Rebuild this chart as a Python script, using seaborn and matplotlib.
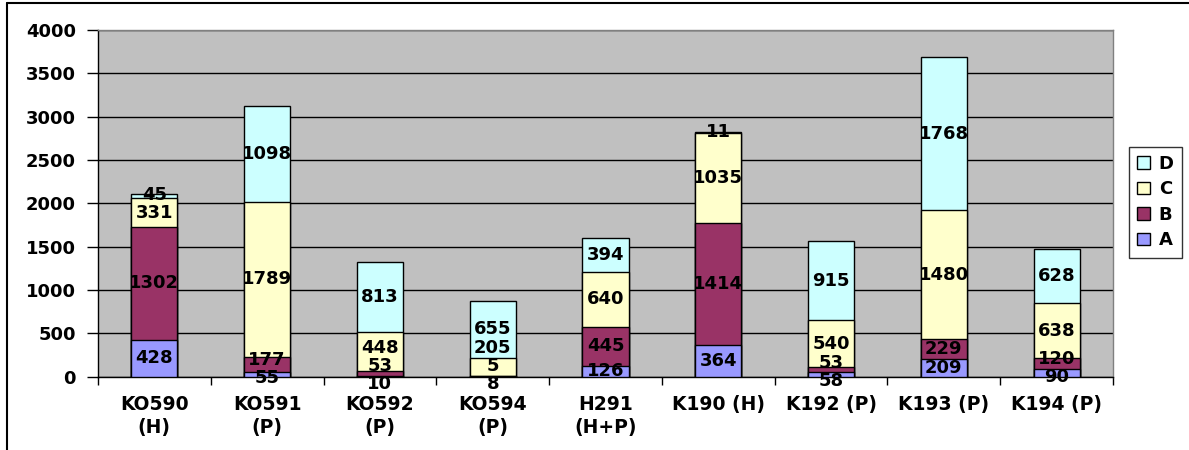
import numpy as np
import pandas as pd
import matplotlib
matplotlib.use("Agg")
import matplotlib.pyplot as plt
from matplotlib.patches import Patch
from matplotlib.lines import Line2D
import seaborn as sns

# ---------------- data ----------------
categories = ["KO590\n(H)", "KO591\n(P)", "KO592\n(P)", "KO594\n(P)", "H291\n(H+P)",
              "K190 (H)", "K192 (P)", "K193 (P)", "K194 (P)"]
series_names = ["A", "B", "C", "D"]
A = [428, 55, 10, 8, 126, 364, 58, 209, 90]
B = [1302, 177, 53, 5, 445, 1414, 53, 229, 120]
C = [331, 1789, 448, 205, 640, 1035, 540, 1480, 638]
D = [45, 1098, 813, 655, 394, 11, 915, 1768, 628]
y_ticks = [0, 500, 1000, 1500, 2000, 2500, 3000, 3500, 4000]

colors = {"A": "#9999FF", "B": "#993366", "C": "#FFFFCC", "D": "#CCFFFF"}

# ---------------- style ----------------
sns.set_theme(style="white")
plt.rcParams["font.family"] = ["DejaVu Sans"]
plt.rcParams["font.weight"] = "bold"
plt.rcParams["text.color"] = "black"
plt.rcParams["xtick.color"] = "black"
plt.rcParams["ytick.color"] = "black"
plt.rcParams["axes.labelcolor"] = "black"

fig = plt.figure(figsize=(11.89, 4.5), dpi=100)
ax = fig.add_axes([0.0824, 0.163, 0.8537, 0.7703])
ax.set_facecolor("#C0C0C0")

series = {"A": A, "B": B, "C": C, "D": D}
stack = np.vstack([series[s] for s in series_names])
cum = np.cumsum(stack, axis=0)

# draw cumulative totals from top layer down so each segment shows its colour
for idx in range(len(series_names) - 1, -1, -1):
    df = pd.DataFrame({"cat": categories, "val": cum[idx]})
    sns.barplot(data=df, x="cat", y="val", order=categories, color=colors[series_names[idx]],
                saturation=1, width=0.41, edgecolor="black", linewidth=1.0,
                errorbar=None, ax=ax, zorder=3)

# ---------------- labels (centred in segments, spread apart when crowded) ----------------
def spread(centers, gap, floor):
    clusters = [[c] for c in centers]

    def positions(cl):
        n = len(cl)
        m = max(np.mean(cl), floor + (n - 1) / 2 * gap)
        return [m + (k - (n - 1) / 2) * gap for k in range(n)]

    changed = True
    while changed:
        changed = False
        for i in range(len(clusters) - 1):
            if positions(clusters[i])[-1] + gap > positions(clusters[i + 1])[0] + 1e-9:
                clusters[i] = clusters[i] + clusters[i + 1]
                del clusters[i + 1]
                changed = True
                break
    out = []
    for cl in clusters:
        out.extend(positions(cl))
    return out

for j in range(len(categories)):
    centers = []
    for i in range(len(series_names)):
        bottom = cum[i][j] - stack[i][j]
        centers.append(bottom + stack[i][j] / 2)
    ys = spread(centers, 205, -85)
    for i, yv in enumerate(ys):
        ax.text(j, yv, str(stack[i][j]), ha="center", va="center", fontsize=13,
                fontweight="bold", color="black", zorder=5, clip_on=False)

# ---------------- axes ----------------
ax.set_ylim(0, 4000)
ax.set_xlim(-0.5, len(categories) - 0.5)
ax.set_yticks(y_ticks)
ax.set_yticklabels([str(v) for v in y_ticks])
ax.set_xlabel("")
ax.set_ylabel("")
ax.yaxis.grid(True, color="black", linewidth=1.0, zorder=0)
ax.set_axisbelow(True)

ax.set_xticks(np.arange(-0.5, len(categories), 1.0), minor=True)
ax.tick_params(axis="x", which="major", length=0, pad=13.5, labelsize=13.5, labelcolor="black")
ax.tick_params(axis="x", which="minor", length=6, width=1, direction="out", color="black", bottom=True)
ax.tick_params(axis="y", which="major", length=8, width=1, direction="out", color="black",
               pad=8, labelsize=13, left=True, labelcolor="black")
for lab in ax.get_xticklabels() + ax.get_yticklabels():
    lab.set_fontweight("bold")
for lab in ax.get_xticklabels():
    lab.set_linespacing(1.25)

for side in ["left", "bottom"]:
    ax.spines[side].set_color("black")
    ax.spines[side].set_linewidth(1.0)
for side in ["top", "right"]:
    ax.spines[side].set_color("#808080")
    ax.spines[side].set_linewidth(1.0)

# ---------------- legend ----------------
handles = [Patch(facecolor=colors[s], edgecolor="black", linewidth=1.0, label=s)
           for s in reversed(series_names)]
leg = fig.legend(handles=handles, loc="center left", bbox_to_anchor=(1129 / 1189, 1 - 202 / 450),
                 frameon=True, fancybox=False, shadow=False,
                 handlelength=0.7, handleheight=0.7, handletextpad=0.5,
                 labelspacing=0.42, borderpad=0.45, borderaxespad=0.0,
                 prop={"weight": "bold", "size": 13})
leg.get_frame().set_edgecolor("black")
leg.get_frame().set_linewidth(1.0)
for t in leg.get_texts():
    t.set_color("black")

# ---------------- outer chart frame ----------------
fig.add_artist(Line2D([7 / 1189, 7 / 1189], [0, 1 - 3 / 450], transform=fig.transFigure,
                      color="black", linewidth=1.5))
fig.add_artist(Line2D([7 / 1189, 1.01], [1 - 3 / 450, 1 - 3 / 450], transform=fig.transFigure,
                      color="black", linewidth=1.5))

fig.savefig("out.png", dpi=100)
